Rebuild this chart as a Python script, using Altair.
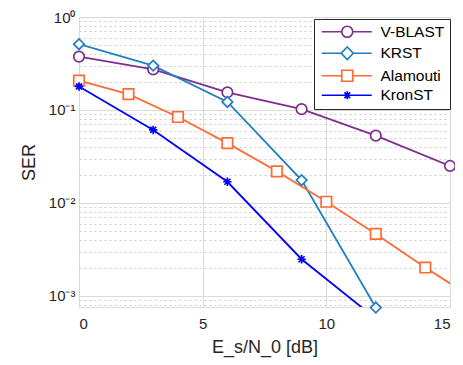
import altair as alt
import pandas as pd

# ---- data ----
series_names = ["V-BLAST", "KRST", "Alamouti", "KronST"]
series_colors = ["#7E2F8E", "#1F7FBF", "#FF6A33", "#0000FF"]

snr_vblast = [0, 3, 6, 9, 12, 15]
ser_vblast = [0.375, 0.273, 0.155, 0.102, 0.053, 0.025]

snr_krst = [0, 3, 6, 9, 12]
ser_krst = [0.51, 0.30, 0.122, 0.0176, 0.00075]

snr_alamouti = [0, 2, 4, 6, 8, 10, 12, 14, 16]
ser_alamouti = [0.207, 0.148, 0.084, 0.044, 0.0219, 0.0103, 0.00464, 0.00202, 0.00092]

snr_kronst = [0, 3, 6, 9, 12]
ser_kronst = [0.179, 0.061, 0.0169, 0.00248, 0.00057]

x_ticks = [0, 5, 10, 15]
y_min, y_max = 7.6e-4, 1.0

rows = []
for name, xs, ys in [
    ("V-BLAST", snr_vblast, ser_vblast),
    ("KRST", snr_krst, ser_krst),
    ("Alamouti", snr_alamouti, ser_alamouti),
    ("KronST", snr_kronst, ser_kronst),
]:
    for xv, yv in zip(xs, ys):
        rows.append({"series": name, "snr": xv, "ser": yv})
df = pd.DataFrame(rows)

y_ticks = [m * 10.0 ** k for k in range(-4, 0) for m in range(1, 10)] + [1.0]
y_ticks = [v for v in y_ticks if y_min <= v <= y_max]

is_decade = "abs(log(datum.value)/LN10 - round(log(datum.value)/LN10)) < 0.001"
lab = "round(log(datum.value)/LN10)"
y_label_expr = (
    f"({is_decade}) ? ({lab} == 0 ? '10⁰' : {lab} == -1 ? '10⁻¹' : "
    f"{lab} == -2 ? '10⁻²' : '10⁻³') : ''"
)

FONT = "Liberation Sans"
TXT = "#262626"

x_enc = alt.X(
    "snr:Q",
    scale=alt.Scale(domain=[0, 15], nice=False),
    axis=alt.Axis(
        values=x_ticks, title="E_s/N_0 [dB]", grid=True, gridColor="#DADADA",
        ticks=False, domain=False, labelFontSize=15, titleFontSize=18,
        labelFont=FONT, titleFont=FONT, labelColor=TXT, titleColor=TXT,
        titleFontWeight="normal", labelPadding=9, titlePadding=7,
    ),
)
y_enc = alt.Y(
    "ser:Q",
    scale=alt.Scale(type="log", domain=[y_min, y_max], nice=False),
    axis=alt.Axis(
        values=y_ticks, title="SER", labelExpr=y_label_expr, grid=True,
        gridColor={"condition": {"test": is_decade, "value": "#DADADA"}, "value": "#CCCCCC"},
        gridDash={"condition": {"test": is_decade, "value": []}, "value": [2, 3]},
        ticks=False, domain=False, labelFontSize=15, titleFontSize=18,
        labelFont=FONT, titleFont=FONT, labelColor=TXT, titleColor=TXT,
        titleFontWeight="normal", labelPadding=4, titlePadding=10,
        labelOverlap=False,
    ),
)

color_scale = alt.Scale(domain=series_names, range=series_colors)

plot_shapes = [
    "circle",
    "diamond",
    "square",
    "M0,-0.8V0.8M-0.8,0H0.8M-0.57,-0.57L0.57,0.57M-0.57,0.57L0.57,-0.57",
]

# legend symbols: marker plus line stubs (units of 5 px, size=100)
legend_shapes = [
    "M-1,0L3,0M5.2,0L9,0M3,0A1.1,1.1 0 1,0 5.2,0A1.1,1.1 0 1,0 3,0Z",
    "M-1,0L2.9,0M5.3,0L9,0M4.1,-1.25L5.3,0L4.1,1.25L2.9,0Z",
    "M-1,0L3,0M5.2,0L9,0M3,-1.1H5.2V1.1H3Z",
    "M-1,0L9,0M4.1,-0.8V0.8M3.53,-0.57L4.67,0.57M3.53,0.57L4.67,-0.57",
]

lines = alt.Chart(df).mark_line(clip=True, strokeWidth=1.8).encode(
    x=x_enc, y=y_enc,
    stroke=alt.Stroke("series:N", scale=color_scale, legend=None),
    order="snr:Q",
)

points = alt.Chart(df).transform_filter(
    "datum.ser >= 7e-4 && datum.snr <= 15"
).mark_point(fill="white", filled=False, size=110, strokeWidth=1.7, opacity=1).encode(
    x=x_enc, y=y_enc,
    stroke=alt.Stroke("series:N", scale=color_scale, legend=None),
    shape=alt.Shape("series:N", scale=alt.Scale(domain=series_names, range=plot_shapes), legend=None),
)

leg = alt.Legend(
    orient="none", legendX=235, legendY=2, title=None,
    labelFont=FONT, labelFontSize=15.5, labelColor="#000000",
    symbolSize=100, symbolStrokeWidth=1.7, symbolFillColor="white",
    labelOffset=46, rowPadding=2.5, padding=5,
    strokeColor="#262626", fillColor="white",
)

legend_layer = alt.Chart(df).transform_filter("false").mark_point(
    fill="white", filled=False, size=100, strokeWidth=1.7, opacity=1
).encode(
    x=x_enc, y=y_enc,
    stroke=alt.Stroke("series:N", scale=color_scale, legend=leg),
    shape=alt.Shape("series:N", scale=alt.Scale(domain=series_names, range=legend_shapes), legend=leg),
)

chart = alt.layer(lines, points, legend_layer).resolve_scale(
    stroke="independent", shape="independent"
).properties(
    width=371, height=290,
    autosize=alt.AutoSizeParams(type="none"),
    padding={"left": 71, "top": 9, "right": 5, "bottom": 56},
).configure_view(stroke="#262626", strokeWidth=1).configure(background="white")

chart.save("out.html", embed_options={"renderer": "svg", "actions": False})
